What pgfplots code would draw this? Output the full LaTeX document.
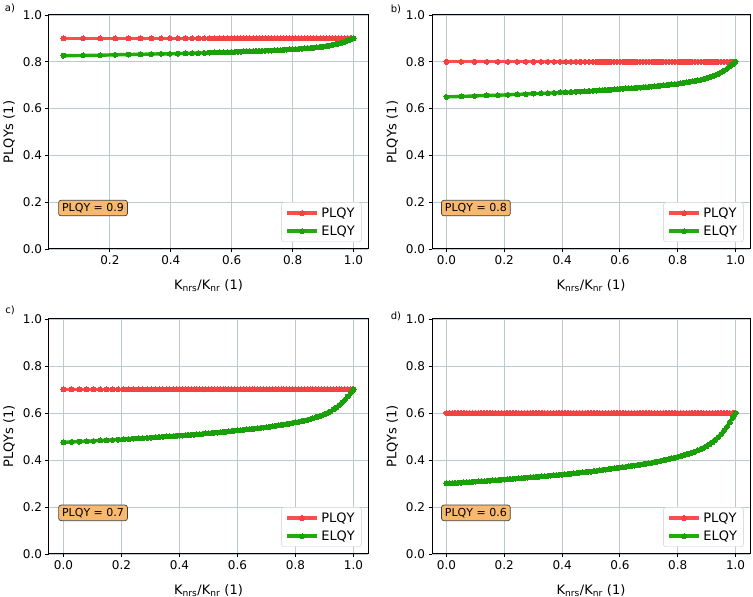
\documentclass[border=0pt]{standalone}
\usepackage{fontspec}
\setmainfont{DejaVu Sans}
\usepackage{pgfplots}
\usepackage{pgfplotstable}
\pgfplotsset{compat=1.18}
\definecolor{plred}{RGB}{255,77,77}
\definecolor{plredm}{RGB}{242,66,66}
\definecolor{elgreen}{RGB}{32,172,10}
\definecolor{elgreenm}{RGB}{26,160,8}
\definecolor{gridc}{RGB}{188,202,206}
\definecolor{boxorange}{RGB}{248,185,110}

\pgfplotstableread{
x p e
0.0476 0.9 0.826
0.1119 0.9 0.827
0.1681 0.9 0.828
0.2175 0.9 0.830
0.2614 0.9 0.831
0.3007 0.9 0.832
0.3360 0.9 0.833
0.3679 0.9 0.834
0.3969 0.9 0.834
0.4233 0.9 0.835
0.4475 0.9 0.836
0.4698 0.9 0.837
0.4903 0.9 0.837
0.5093 0.9 0.838
0.5270 0.9 0.839
0.5434 0.9 0.840
0.5587 0.9 0.840
0.5730 0.9 0.841
0.5864 0.9 0.841
0.5990 0.9 0.842
0.61 0.9 0.842
0.62 0.9 0.843
0.63 0.9 0.843
0.64 0.9 0.844
0.65 0.9 0.844
0.66 0.9 0.845
0.67 0.9 0.845
0.68 0.9 0.846
0.69 0.9 0.846
0.70 0.9 0.847
0.71 0.9 0.847
0.72 0.9 0.848
0.73 0.9 0.848
0.74 0.9 0.849
0.75 0.9 0.850
0.76 0.9 0.850
0.77 0.9 0.851
0.78 0.9 0.852
0.79 0.9 0.853
0.80 0.9 0.853
0.81 0.9 0.854
0.82 0.9 0.855
0.83 0.9 0.856
0.84 0.9 0.857
0.85 0.9 0.858
0.86 0.9 0.859
0.87 0.9 0.860
0.88 0.9 0.862
0.89 0.9 0.863
0.90 0.9 0.865
0.91 0.9 0.867
0.92 0.9 0.869
0.93 0.9 0.872
0.94 0.9 0.874
0.95 0.9 0.878
0.96 0.9 0.881
0.97 0.9 0.885
0.98 0.9 0.890
0.99 0.9 0.895
0.995 0.9 0.898
1.00 0.9 0.900
}\tabA

\pgfplotstableread{
x p e
0.0000 0.8 0.650
0.0512 0.8 0.652
0.0975 0.8 0.654
0.1394 0.8 0.656
0.1776 0.8 0.657
0.2126 0.8 0.659
0.2447 0.8 0.661
0.2743 0.8 0.662
0.3017 0.8 0.664
0.3271 0.8 0.665
0.3506 0.8 0.666
0.3726 0.8 0.667
0.3932 0.8 0.669
0.4125 0.8 0.670
0.4305 0.8 0.671
0.4475 0.8 0.672
0.4635 0.8 0.673
0.4786 0.8 0.674
0.4929 0.8 0.675
0.5064 0.8 0.676
0.5192 0.8 0.677
0.53 0.8 0.678
0.54 0.8 0.679
0.55 0.8 0.680
0.56 0.8 0.680
0.57 0.8 0.681
0.58 0.8 0.682
0.59 0.8 0.683
0.60 0.8 0.684
0.61 0.8 0.685
0.62 0.8 0.686
0.63 0.8 0.686
0.64 0.8 0.687
0.65 0.8 0.688
0.66 0.8 0.689
0.67 0.8 0.690
0.68 0.8 0.691
0.69 0.8 0.692
0.70 0.8 0.693
0.71 0.8 0.694
0.72 0.8 0.695
0.73 0.8 0.697
0.74 0.8 0.698
0.75 0.8 0.699
0.76 0.8 0.700
0.77 0.8 0.702
0.78 0.8 0.703
0.79 0.8 0.705
0.80 0.8 0.706
0.81 0.8 0.708
0.82 0.8 0.710
0.83 0.8 0.712
0.84 0.8 0.714
0.85 0.8 0.716
0.86 0.8 0.718
0.87 0.8 0.721
0.88 0.8 0.723
0.89 0.8 0.726
0.90 0.8 0.729
0.91 0.8 0.733
0.92 0.8 0.738
0.93 0.8 0.743
0.94 0.8 0.748
0.95 0.8 0.755
0.96 0.8 0.762
0.97 0.8 0.770
0.98 0.8 0.780
0.99 0.8 0.790
0.995 0.8 0.795
1.00 0.8 0.800
}\tabB

\pgfplotstableread{
x p e
0.0000 0.7 0.475
0.0282 0.7 0.477
0.0548 0.7 0.478
0.0800 0.7 0.480
0.1039 0.7 0.481
0.1266 0.7 0.483
0.1482 0.7 0.484
0.1687 0.7 0.485
0.1883 0.7 0.487
0.2070 0.7 0.488
0.2248 0.7 0.489
0.2419 0.7 0.491
0.2582 0.7 0.492
0.2738 0.7 0.493
0.2888 0.7 0.494
0.3031 0.7 0.495
0.3169 0.7 0.497
0.3302 0.7 0.498
0.3430 0.7 0.499
0.3553 0.7 0.500
0.3671 0.7 0.501
0.38 0.7 0.502
0.39 0.7 0.503
0.40 0.7 0.504
0.41 0.7 0.504
0.42 0.7 0.505
0.43 0.7 0.507
0.44 0.7 0.507
0.45 0.7 0.508
0.46 0.7 0.509
0.47 0.7 0.510
0.48 0.7 0.511
0.49 0.7 0.513
0.50 0.7 0.513
0.51 0.7 0.515
0.52 0.7 0.516
0.53 0.7 0.517
0.54 0.7 0.518
0.55 0.7 0.519
0.56 0.7 0.521
0.57 0.7 0.522
0.58 0.7 0.523
0.59 0.7 0.525
0.60 0.7 0.526
0.61 0.7 0.527
0.62 0.7 0.528
0.63 0.7 0.530
0.64 0.7 0.531
0.65 0.7 0.532
0.66 0.7 0.534
0.67 0.7 0.535
0.68 0.7 0.537
0.69 0.7 0.538
0.70 0.7 0.540
0.71 0.7 0.541
0.72 0.7 0.543
0.73 0.7 0.545
0.74 0.7 0.547
0.75 0.7 0.549
0.76 0.7 0.551
0.77 0.7 0.553
0.78 0.7 0.555
0.79 0.7 0.558
0.80 0.7 0.560
0.81 0.7 0.562
0.82 0.7 0.565
0.83 0.7 0.568
0.84 0.7 0.570
0.85 0.7 0.573
0.86 0.7 0.577
0.87 0.7 0.581
0.88 0.7 0.585
0.89 0.7 0.589
0.90 0.7 0.594
0.91 0.7 0.600
0.92 0.7 0.606
0.93 0.7 0.615
0.94 0.7 0.623
0.95 0.7 0.633
0.96 0.7 0.644
0.97 0.7 0.656
0.98 0.7 0.670
0.99 0.7 0.685
0.995 0.7 0.693
1.00 0.7 0.700
}\tabC

\pgfplotstableread{
x p e
0.00 0.6 0.300
0.01 0.6 0.301
0.02 0.6 0.302
0.03 0.6 0.302
0.04 0.6 0.303
0.05 0.6 0.304
0.06 0.6 0.305
0.07 0.6 0.306
0.08 0.6 0.306
0.09 0.6 0.307
0.10 0.6 0.308
0.11 0.6 0.309
0.12 0.6 0.310
0.13 0.6 0.310
0.14 0.6 0.311
0.15 0.6 0.312
0.16 0.6 0.313
0.17 0.6 0.314
0.18 0.6 0.315
0.19 0.6 0.316
0.20 0.6 0.317
0.21 0.6 0.318
0.22 0.6 0.319
0.23 0.6 0.320
0.24 0.6 0.321
0.25 0.6 0.322
0.26 0.6 0.323
0.27 0.6 0.324
0.28 0.6 0.325
0.29 0.6 0.326
0.30 0.6 0.327
0.31 0.6 0.328
0.32 0.6 0.329
0.33 0.6 0.330
0.34 0.6 0.331
0.35 0.6 0.332
0.36 0.6 0.334
0.37 0.6 0.335
0.38 0.6 0.336
0.39 0.6 0.337
0.40 0.6 0.338
0.41 0.6 0.339
0.42 0.6 0.340
0.43 0.6 0.342
0.44 0.6 0.343
0.45 0.6 0.344
0.46 0.6 0.346
0.47 0.6 0.347
0.48 0.6 0.348
0.49 0.6 0.350
0.50 0.6 0.351
0.51 0.6 0.353
0.52 0.6 0.354
0.53 0.6 0.356
0.54 0.6 0.358
0.55 0.6 0.359
0.56 0.6 0.361
0.57 0.6 0.363
0.58 0.6 0.364
0.59 0.6 0.366
0.60 0.6 0.368
0.61 0.6 0.370
0.62 0.6 0.371
0.63 0.6 0.373
0.64 0.6 0.375
0.65 0.6 0.376
0.66 0.6 0.378
0.67 0.6 0.380
0.68 0.6 0.382
0.69 0.6 0.384
0.70 0.6 0.386
0.71 0.6 0.388
0.72 0.6 0.391
0.73 0.6 0.393
0.74 0.6 0.396
0.75 0.6 0.398
0.76 0.6 0.401
0.77 0.6 0.404
0.78 0.6 0.407
0.79 0.6 0.410
0.80 0.6 0.413
0.81 0.6 0.416
0.82 0.6 0.420
0.83 0.6 0.424
0.84 0.6 0.427
0.85 0.6 0.431
0.86 0.6 0.436
0.87 0.6 0.441
0.88 0.6 0.446
0.89 0.6 0.452
0.90 0.6 0.458
0.91 0.6 0.466
0.92 0.6 0.475
0.93 0.6 0.486
0.94 0.6 0.497
0.95 0.6 0.510
0.96 0.6 0.525
0.97 0.6 0.541
0.98 0.6 0.560
0.99 0.6 0.580
0.995 0.6 0.590
1.00 0.6 0.600
}\tabD

\pgfplotsset{
  panel/.style={
    scale only axis, width=318pt, height=234pt,
    ymin=0, ymax=1, ytick={0,0.2,0.4,0.6,0.8,1.0},
    xmin=-0.05, xmax=1.05, xtick={0,0.2,0.4,0.6,0.8,1.0},
    /pgf/number format/assume math mode=true,
    xticklabel style={/pgf/number format/.cd, fixed, fixed zerofill, precision=1},
    yticklabel style={/pgf/number format/.cd, fixed, fixed zerofill, precision=1},
    tick label style={font=\fontsize{12}{14}\selectfont},
    grid=major, major grid style={gridc, line width=0.9pt},
    tick align=outside, tick pos=left, major tick length=3.5pt,
    axis line style={line width=1pt},
    every tick/.style={black, line width=0.9pt},
    xlabel={K\textsubscript{nrs}/K\textsubscript{nr} (1)},
    ylabel={PLQYs (1)},
    label style={font=\fontsize{13}{15}\selectfont},
    xlabel style={at={(axis description cs:0.5,-0.155)}, anchor=center},
    ylabel style={at={(axis description cs:-0.125,0.5)}, anchor=center},
    legend style={at={(0.98,0.03)}, anchor=south east,
      font=\fontsize{13}{15}\selectfont, draw=black!20, rounded corners=2.5pt,
      fill=white, row sep=2pt, inner xsep=4pt, inner ysep=2.5pt,
      nodes={inner sep=2.5pt}},
    legend cell align=left,
    legend image code/.code={\draw[mark repeat=2,mark phase=2,#1] plot coordinates {(0pt,0pt) (15pt,0pt) (30pt,0pt)};},
  },
  plq/.style={plred, line width=3.4pt, mark=*, mark size=2.5pt, mark options={solid, fill=plredm, draw=plredm, line width=0pt}},
  elq/.style={elgreen, line width=3.4pt, mark=*, mark size=2.5pt, mark options={solid, fill=elgreenm, draw=elgreenm, line width=0pt}},
}

\newcommand{\qybox}[1]{\node[fill=boxorange, draw=black!75, rounded corners=2.5pt, inner xsep=3.5pt, inner ysep=3pt, line width=0.7pt, font=\fontsize{11}{12}\selectfont] at (rel axis cs:0.138,0.175) {PLQY = #1};}

\begin{document}
\begin{tikzpicture}[x=1pt,y=1pt]
\useasboundingbox (0,0) rectangle (753,597);

\begin{axis}[panel, at={(49pt,348pt)}, anchor=south west, width=319pt, xmin=0.0, xmax=1.0476, xtick={0.2,0.4,0.6,0.8,1.0}]
\addplot[plq] table[x=x,y=p] {\tabA};
\addplot[elq] table[x=x,y=e] {\tabA};
\legend{PLQY,ELQY}
\qybox{0.9}
\end{axis}

\begin{axis}[panel, at={(432pt,348pt)}, anchor=south west]
\addplot[plq] table[x=x,y=p] {\tabB};
\addplot[elq] table[x=x,y=e] {\tabB};
\legend{PLQY,ELQY}
\qybox{0.8}
\end{axis}

\begin{axis}[panel, at={(49pt,43pt)}, anchor=south west, width=319pt, height=235pt]
\addplot[plq] table[x=x,y=p] {\tabC};
\addplot[elq] table[x=x,y=e] {\tabC};
\legend{PLQY,ELQY}
\qybox{0.7}
\end{axis}

\begin{axis}[panel, at={(432pt,43pt)}, anchor=south west, height=235pt]
\addplot[plq] table[x=x,y=p] {\tabD};
\addplot[elq] table[x=x,y=e] {\tabD};
\legend{PLQY,ELQY}
\qybox{0.6}
\end{axis}

\node[font=\fontsize{10}{11}\selectfont] at (10,589) {a)};
\node[font=\fontsize{10}{11}\selectfont] at (396,588) {b)};
\node[font=\fontsize{10}{11}\selectfont] at (10,287) {c)};
\node[font=\fontsize{10}{11}\selectfont] at (396,281) {d)};
\end{tikzpicture}
\end{document}
